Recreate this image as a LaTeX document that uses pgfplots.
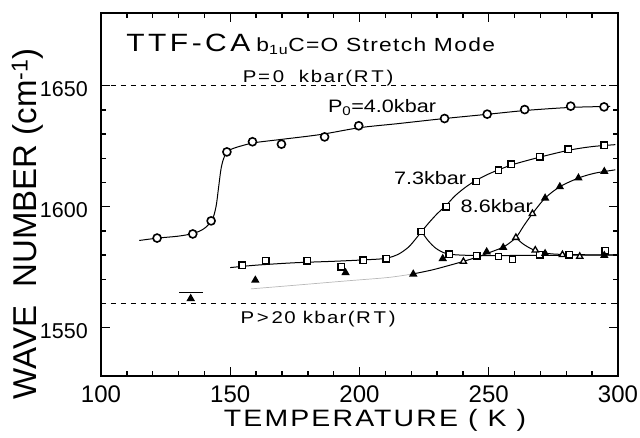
\documentclass[border=0pt]{standalone}
\usepackage{pgfplots}
\pgfplotsset{compat=1.18}
\usepackage{fontspec}
\setmainfont{Liberation Sans}
\newfontfamily\wf{Liberation Sans}[FakeStretch=1.2]
\begin{document}
\begin{tikzpicture}
\begin{axis}[
 at={(0,0)}, anchor=south west,
 scale only axis, width=517pt, height=363pt,
 xmin=100, xmax=300, ymin=1530, ymax=1680,
 xtick={100,150,200,250,300}, ytick={1550,1600,1650},
 minor x tick num=4, minor y tick num=4,
 major tick length=9pt, minor tick length=5pt,
 axis line style={line width=2pt},
 every tick/.style={line width=1.4pt, black},
 /pgf/number format/assume math mode=true,
 /pgf/number format/set thousands separator={},
 xticklabel style={font=\fontsize{24}{24}\selectfont, inner sep=0pt, anchor=north, yshift=-10pt},
 yticklabel style={font=\fontsize{21.5}{21.5}\selectfont, inner sep=0pt, anchor=east, xshift=-13pt, yshift=-3pt},
 xlabel={\wf\fontsize{23.7}{24}\selectfont\addfontfeature{LetterSpace=9}TEMPERATURE ( K )},
 ylabel={\fontsize{33}{33}\selectfont WAVE\ \ NUMBER (cm\textsuperscript{-1})},
 xlabel style={at={(axis description cs:0.530,-0.121)}, anchor=center, inner sep=0pt},
 ylabel style={at={(axis description cs:-0.142,0.420)}, anchor=center, inner sep=0pt},
 clip=false,
]
% reference dashed lines
\addplot[line width=1.4pt, dash pattern=on 5pt off 5pt] coordinates {(100,1650) (300,1650)};
\addplot[line width=1.4pt, dash pattern=on 5pt off 5pt] coordinates {(100,1560) (300,1560)};
% fitted curves
\addplot[line width=1pt, smooth] coordinates {
(114.8,1586.0) (122,1587.0) (130,1587.8) (136,1589.0) (140,1591.0) (143,1594.5) (144.5,1600) (145.5,1608) (146.5,1616) (147.8,1620.8) (150,1623.5) (155,1625.3) (160,1626.5) (170,1627.8) (185,1629.8) (200,1632.6) (215,1634.3) (232,1636.3) (250,1638.2) (265,1639.8) (282,1641.0) (297,1641.4)};
\addplot[line width=1pt, smooth] coordinates {
(150,1574.8) (160,1575.8) (175,1576.8) (190,1577.4) (202,1578.0) (210,1578.6) (215,1580.3) (219,1583.3) (222,1587) (224,1589.7) (227,1593.5) (230,1597) (233.5,1600.5) (237,1604.5) (241,1608) (245,1610.8) (250,1613.5) (255,1615.7) (260,1617.6) (270,1620.5) (281,1623.3) (290,1624.8) (299,1625.6)};
\addplot[line width=1pt, smooth] coordinates {
(224,1589.7) (226.5,1586) (229.5,1582.8) (233,1580.8) (237,1580.1) (245,1579.8) (260,1579.8) (280,1579.9) (299,1580.0)};
\addplot[line width=0.7pt, gray!55, smooth] coordinates {
(158,1566.0) (175,1567.5) (195,1569.3) (211,1570.7) (220.8,1572.2)};
\addplot[line width=1pt, smooth] coordinates {
(220.8,1572.2) (228,1573.8) (234,1575.5) (240,1577.3) (246,1579.3) (251,1581.3) (256,1583.5) (260.5,1587.2) (263.5,1592) (266.9,1597.1) (271.8,1603.5) (277.5,1608.2) (284.7,1611.8) (291,1613.8) (299,1615.2)};
\addplot[line width=1pt, smooth] coordinates {
(260.5,1587.2) (263,1584.8) (266,1582.8) (269,1581.5) (273,1580.6) (280,1580.2) (299,1580.0)};
\addplot[line width=0.9pt] coordinates {(130.2,1564.5) (139.5,1564.5)};
% data points
\addplot[only marks, mark=*, mark size=4pt, mark options={line width=1.6pt, fill=white, draw=black}] coordinates {
(121.7,1587.0) (135.5,1588.7) (142.6,1594.1) (148.7,1622.6) (158.6,1626.8) (169.8,1625.8) (186.5,1628.8) (199.7,1633.4) (232.9,1636.4) (249.4,1638.2) (263.9,1640.1) (281.7,1641.5) (294.6,1641.2)};
\addplot[only marks, mark=square*, mark size=3.2pt, mark options={line width=1.4pt, fill=white, draw=black}] coordinates {
(154.7,1575.8) (163.7,1577.6) (179.7,1577.6) (192.9,1575.1) (201.5,1577.9) (210.3,1578.5) (223.8,1589.7) (233.5,1600) (245.1,1610.4) (253.8,1615.1) (258.7,1617.6) (269.8,1620.6) (280.8,1623.8) (294.7,1625.4)
(234.7,1580.3) (245.3,1579.6) (253.8,1579.4) (259.2,1578.3) (269.8,1580.1) (281.1,1580.1) (295,1581.7)};
\addplot[only marks, mark=triangle*, mark size=3.6pt, mark options={line width=1.3pt, fill=black, draw=black}] coordinates {
(134.7,1562.0) (159.7,1569.6) (194.6,1572.7) (220.8,1572.1) (232.2,1578.5) (249.2,1581.3) (255.6,1583.1) (271.8,1603.5) (277.5,1608.2) (284.7,1611.8) (294.7,1614.5) (271.8,1580.6) (294.7,1579.8)};
\addplot[only marks, mark=triangle*, mark size=3.6pt, mark options={line width=1.3pt, fill=white, draw=black}] coordinates {
(240.2,1577.3) (260.5,1587.2) (266.9,1597.1) (268,1582) (278.5,1580.1) (285.2,1579.4)};
% annotations
\node[anchor=base west, inner sep=0pt] at (axis cs:109.7,1664.2) {{\wf\fontsize{25}{25}\selectfont\addfontfeature{LetterSpace=14}TTF-CA}\hspace{6pt}{\wf\fontsize{19}{19}\selectfont\addfontfeature{LetterSpace=7}b\textsubscript{1u}C=O Stretch Mode}};
\node[anchor=base, inner sep=0pt] at (axis cs:184,1651.2) {\wf\fontsize{17}{17}\selectfont\addfontfeature{LetterSpace=10}P=\,0\ \ kbar(R\,T\,)};
\node[anchor=base, inner sep=0pt] at (axis cs:208.7,1638.7) {\wf\fontsize{18}{18}\selectfont P\textsubscript{0}=4.0kbar};
\node[anchor=base, inner sep=0pt] at (axis cs:227.3,1609) {\wf\fontsize{18}{18}\selectfont 7.3kbar};
\node[anchor=base, inner sep=0pt] at (axis cs:253.1,1597.6) {\wf\fontsize{18}{18}\selectfont 8.6kbar};
\node[anchor=base, inner sep=0pt] at (axis cs:184,1551.5) {\wf\fontsize{17}{17}\selectfont\addfontfeature{LetterSpace=8}P\,>\,20\ kbar(R\,T\,)};
\end{axis}
\pgfresetboundingbox
\path[use as bounding box] (-101pt,-61pt) rectangle (539pt,376pt);
\end{tikzpicture}
\end{document}
